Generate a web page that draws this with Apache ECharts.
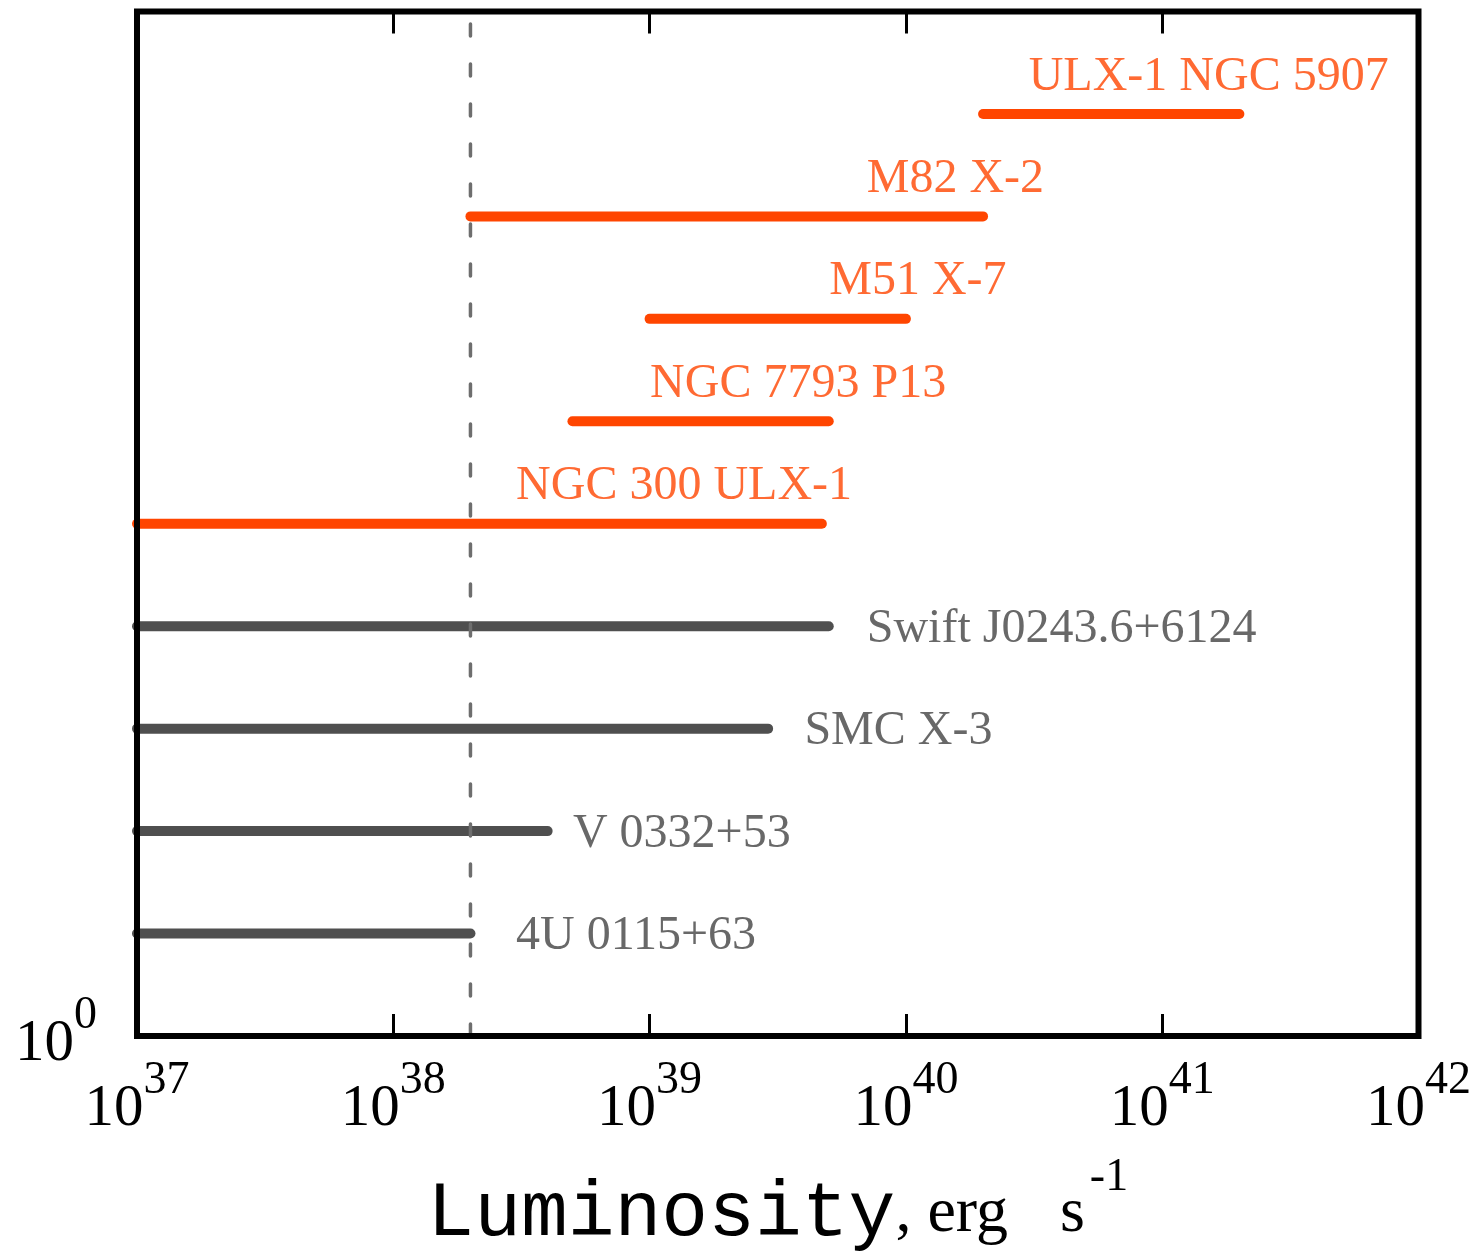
<!DOCTYPE html>
<html>
<head>
<meta charset="utf-8">
<script src="https://cdn.jsdelivr.net/npm/echarts@6/dist/echarts.min.js"></script>
<style>
  html, body { margin: 0; padding: 0; background: #fff; }
  #chart { width: 1481px; height: 1253px; }
</style>
</head>
<body>
<div id="chart"></div>
<script>
// Luminosity ranges of pulsating X-ray sources (erg/s), bottom row first
const sources = [
  '4U 0115+63',
  'V 0332+53',
  'SMC X-3',
  'Swift J0243.6+6124',
  'NGC 300 ULX-1',
  'NGC 7793 P13',
  'M51 X-7',
  'M82 X-2',
  'ULX-1 NGC 5907'
];
const lumMin = [1e37, 1e37, 1e37, 1e37, 1e37, 5e38, 1e39, 2e38, 2e40];
const lumMax = [2e38, 4e38, 2.9e39, 5e39, 4.7e39, 5e39, 1e40, 2e40, 2e41];
// true for ultraluminous sources (drawn in orange, name above the bar)
const isUlx = [false, false, false, false, true, true, true, true, true];
// luminosity where each name starts
const labelX = [3e38, 5e38, 4e39, 7e39, 3e38, 1e39, 5e39, 7e39, 3e40];
// Eddington luminosity for a neutron star
const eddingtonLum = 2e38;
// axis limits
const xMin = 1e37;
const xMax = 1e42;
const rowMin = 0;
const rowMax = 10;

const ULX_COLOR = '#ff4500';
const XRP_COLOR = '#4f4f4f';
const XRP_TEXT = '#424242';
const SERIF = '"Liberation Serif", "Times New Roman", serif';
const MONO = '"Liberation Mono", "Courier New", monospace';

const rows = sources.map((_, i) => i + 1);

// "10" with a raised exponent; the exponent box is padded below to lift it
const powRich = {
  b: { fontFamily: SERIF, fontSize: 59, lineHeight: 70, verticalAlign: 'middle', color: '#000' },
  s: { fontFamily: SERIF, fontSize: 46, lineHeight: 40, verticalAlign: 'middle', color: '#000', padding: [0, 0, 56, 0] }
};

const rangeSeries = sources.map((name, i) => ({
  type: 'line',
  name: name,
  data: [[lumMin[i], rows[i]], [lumMax[i], rows[i]]],
  symbol: 'none',
  silent: true,
  z: 2,
  lineStyle: { color: isUlx[i] ? ULX_COLOR : XRP_COLOR, width: 10, cap: 'round' }
}));

const eddingtonSeries = {
  type: 'line',
  name: 'Eddington',
  data: [[eddingtonLum, rowMin], [eddingtonLum, rowMax]],
  symbol: 'none',
  silent: true,
  z: 3,
  lineStyle: { color: '#6e6e6e', width: 3.5, type: [12, 28], cap: 'round' }
};

const nameSeries = {
  type: 'scatter',
  name: 'names',
  silent: true,
  z: 4,
  symbolSize: 1,
  itemStyle: { color: 'rgba(0,0,0,0)' },
  label: {
    show: true,
    position: 'right',
    distance: 0,
    fontFamily: SERIF,
    fontSize: 48,
    formatter: p => p.name
  },
  data: sources.map((name, i) => ({
    name: name,
    value: [labelX[i], rows[i]],
    label: {
      color: isUlx[i] ? ULX_COLOR : XRP_TEXT,
      offset: isUlx[i] ? [0, -37] : [0, 3]
    }
  }))
};

const powLabel = v => '{b|10}{s|' + Math.round(Math.log10(v)) + '}';

const baseX = {
  type: 'log',
  logBase: 10,
  min: xMin,
  max: xMax,
  splitNumber: 5,
  axisLine: { show: false },
  axisTick: { show: true, inside: true, length: 22, lineStyle: { color: '#000', width: 3 } },
  minorTick: { show: false },
  splitLine: { show: false },
  minorSplitLine: { show: false }
};

const chart = echarts.init(document.getElementById('chart'), null, { renderer: 'canvas' });
chart.setOption({
  animation: false,
  backgroundColor: '#fff',
  grid: {
    left: 137, top: 11.5, right: 62.5, bottom: 217,
    show: true,
    borderColor: '#000',
    borderWidth: 6,
    backgroundColor: 'transparent',
    z: 10,
    outerBoundsMode: 'none'
  },
  xAxis: [
    Object.assign({}, baseX, {
      position: 'bottom',
      axisLabel: {
        show: true,
        margin: 38,
        showMinLabel: true,
        showMaxLabel: true,
        hideOverlap: false,
        formatter: powLabel,
        rich: powRich
      },
      name: '{m|Luminosity}{s|, erg}{s2|s}{sup|-1}',
      nameLocation: 'middle',
      nameGap: 133,
      nameMoveOverlap: false,
      nameTextStyle: {
        rich: {
          m: { fontFamily: MONO, fontSize: 78, lineHeight: 90, verticalAlign: 'middle', color: '#000' },
          s: { fontFamily: SERIF, fontSize: 64, lineHeight: 90, verticalAlign: 'middle', color: '#000' },
          s2: { fontFamily: SERIF, fontSize: 64, lineHeight: 90, verticalAlign: 'middle', color: '#000', padding: [0, 0, 0, 52] },
          sup: { fontFamily: SERIF, fontSize: 46, lineHeight: 40, verticalAlign: 'middle', color: '#000', padding: [0, 0, 72, 5] }
        }
      }
    }),
    Object.assign({}, baseX, {
      position: 'top',
      axisLabel: { show: false }
    })
  ],
  yAxis: {
    type: 'value',
    min: rowMin,
    max: rowMax,
    interval: 10,
    axisLine: { show: false },
    axisTick: { show: false },
    splitLine: { show: false },
    axisLabel: {
      margin: 40,
      padding: [16, 0, 0, 0],
      formatter: v => (v === rowMin ? '{b|10}{s|0}' : ''),
      rich: powRich
    }
  },
  series: rangeSeries.concat([eddingtonSeries, nameSeries])
});
</script>
</body>
</html>
